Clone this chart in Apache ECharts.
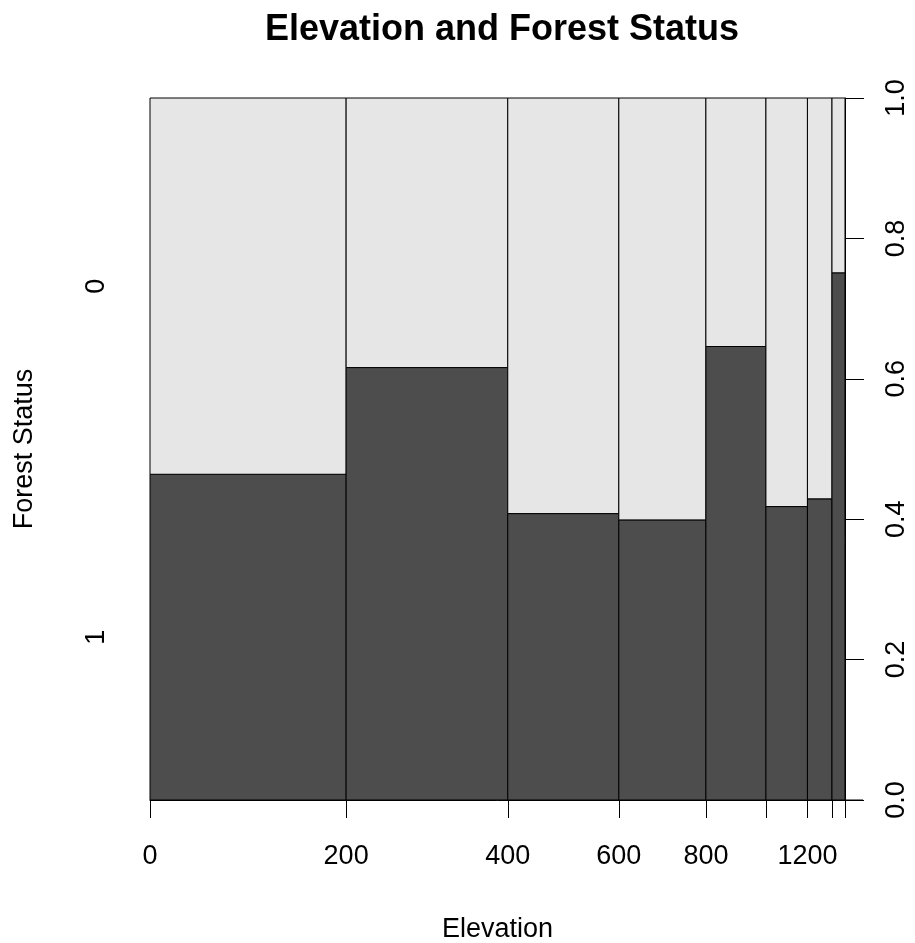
<!DOCTYPE html>
<html>
<head>
<meta charset="utf-8">
<script src="https://cdn.jsdelivr.net/npm/echarts@6/dist/echarts.min.js"></script>
<style>
  html, body { margin: 0; padding: 0; background: #ffffff; }
  #chart { width: 915px; height: 943px; }
</style>
</head>
<body>
<div id="chart"></div>
<script>
const breaks = [0, 200, 400, 600, 800, 1000, 1200, 1400, 1600];
const tickLabels = ['0', '200', '400', '600', '800', '', '1200', '', ''];
// relative share of observations in each elevation bin (bar widths)
const binShare = [0.282, 0.2324, 0.1597, 0.1252, 0.0863, 0.0597, 0.0353, 0.0187];
// proportion of Forest Status = 1 in each bin (dark, bottom)
const forest1 = [0.464, 0.616, 0.408, 0.399, 0.646, 0.418, 0.429, 0.751];
const statusLabels = ['1', '0'];
const statusColors = ['#4D4D4D', '#E6E6E6'];
const yTicks = [0, 0.2, 0.4, 0.6, 0.8, 1.0];

// ---- derived ----
const total = binShare.reduce((a, b) => a + b, 0);
const cum = [0];
binShare.forEach((s, i) => cum.push(cum[i] + s));

const rects = [];
binShare.forEach((s, i) => {
  rects.push([cum[i], cum[i + 1], 0, forest1[i], 0]);
  rects.push([cum[i], cum[i + 1], forest1[i], 1, 1]);
});
const leftLabelPos = [forest1[0] / 2, (forest1[0] + 1) / 2];

function nearestIndex(arr, v) {
  let best = 0, bd = Infinity;
  arr.forEach((a, i) => { const d = Math.abs(a - v); if (d < bd) { bd = d; best = i; } });
  return best;
}

const FONT = 'Liberation Sans, Arial, sans-serif';
const chart = echarts.init(document.getElementById('chart'));
chart.setOption({
  animation: false,
  backgroundColor: '#ffffff',
  title: {
    text: 'Elevation and Forest Status',
    left: 497, top: 7, textAlign: 'center',
    textStyle: { fontFamily: FONT, fontSize: 36, fontWeight: 'bold', color: '#000' }
  },
  grid: { left: 150, top: 98, width: 695, height: 702, containLabel: false, outerBoundsMode: 'none' },
  xAxis: {
    type: 'value', min: 0, max: total,
    name: 'Elevation', nameLocation: 'middle', nameGap: 116,
    nameTextStyle: { fontFamily: FONT, fontSize: 27, color: '#000' },
    axisLine: { show: true, onZero: false, lineStyle: { color: '#000', width: 1 } },
    axisTick: { show: true, customValues: cum, length: 18, lineStyle: { color: '#000', width: 1 } },
    axisLabel: {
      customValues: cum, margin: 43,
      fontFamily: FONT, fontSize: 27, color: '#000',
      formatter: v => tickLabels[nearestIndex(cum, v)]
    },
    splitLine: { show: false }
  },
  yAxis: [
    {
      type: 'value', position: 'right', min: 0, max: 1, interval: 0.2,
      axisLine: { show: true, onZero: false, lineStyle: { color: '#000', width: 1 } },
      axisTick: { show: true, customValues: yTicks, length: 19, lineStyle: { color: '#000', width: 1 } },
      axisLabel: {
        customValues: yTicks,
        rotate: 90, margin: 38, fontFamily: FONT, fontSize: 27, color: '#000',
        formatter: v => v.toFixed(1)
      },
      splitLine: { show: false }
    },
    {
      type: 'value', position: 'left', min: 0, max: 1,
      name: 'Forest Status', nameLocation: 'middle', nameGap: 112, nameRotate: 90,
      nameTextStyle: { fontFamily: FONT, fontSize: 27, color: '#000' },
      axisLine: { show: false, onZero: false },
      axisTick: { show: false },
      axisLabel: {
        customValues: leftLabelPos, rotate: 90, margin: 40,
        fontFamily: FONT, fontSize: 27, color: '#000',
        formatter: v => statusLabels[nearestIndex(leftLabelPos, v)]
      },
      splitLine: { show: false }
    }
  ],
  series: [{
    type: 'custom',
    xAxisIndex: 0, yAxisIndex: 0,
    data: rects,
    clip: false,
    renderItem: function (params, api) {
      const p0 = api.coord([api.value(0), api.value(2)]);
      const p1 = api.coord([api.value(1), api.value(3)]);
      const cat = api.value(4);
      const children = [{
        type: 'rect',
        shape: { x: p0[0], y: p1[1], width: p1[0] - p0[0], height: p0[1] - p1[1] },
        style: { fill: statusColors[cat], stroke: '#000', lineWidth: 1 }
      }];
      if (params.dataIndex === rects.length - 1) {
        const e = api.coord([total, 0]);
        children.push({
          type: 'line',
          shape: { x1: e[0], y1: e[1], x2: e[0] + 18, y2: e[1] },
          style: { stroke: '#000', lineWidth: 1 }
        });
      }
      return { type: 'group', children: children };
    }
  }]
});
</script>
</body>
</html>
